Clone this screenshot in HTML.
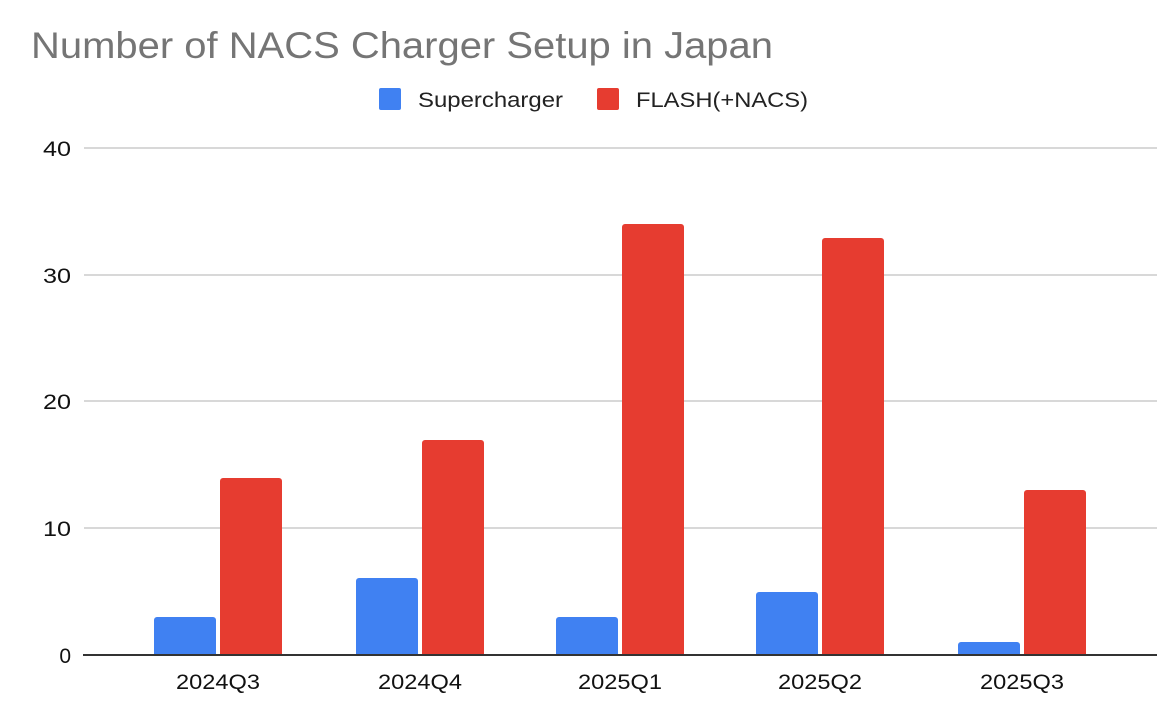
<!DOCTYPE html>
<html><head><meta charset="utf-8"><style>html,body{margin:0;padding:0;background:#fff}svg{display:block}</style></head>
<body>
<svg width="1172" height="720" xmlns="http://www.w3.org/2000/svg" font-family="Liberation Sans, Arial, sans-serif">
<rect width="1172" height="720" fill="#fff"/>
<text x="31" y="58" font-size="37" fill="#757575" textLength="742" lengthAdjust="spacingAndGlyphs">Number of NACS Charger Setup in Japan</text>
<rect x="379" y="88" width="22" height="22" rx="2" fill="#4081f2"/>
<text x="418" y="107" font-size="21" fill="#222" textLength="145" lengthAdjust="spacingAndGlyphs">Supercharger</text>
<rect x="597" y="88" width="22" height="22" rx="2" fill="#e63c30"/>
<text x="636" y="107" font-size="21" fill="#222" textLength="172" lengthAdjust="spacingAndGlyphs">FLASH(+NACS)</text>
<g stroke="#ccc" stroke-width="1.5">
<line x1="84" x2="1157" y1="148" y2="148"/>
<line x1="84" x2="1157" y1="275" y2="275"/>
<line x1="84" x2="1157" y1="401" y2="401"/>
<line x1="84" x2="1157" y1="528" y2="528"/>
</g>
<g font-size="21" fill="#111" text-anchor="end">
<text x="71" y="156" textLength="28" lengthAdjust="spacingAndGlyphs">40</text>
<text x="71" y="283" textLength="28" lengthAdjust="spacingAndGlyphs">30</text>
<text x="71" y="409" textLength="28" lengthAdjust="spacingAndGlyphs">20</text>
<text x="71" y="536" textLength="28" lengthAdjust="spacingAndGlyphs">10</text>
<text x="71" y="663">0</text>
</g>
<g>
<path d="M154,655V620a3,3 0 0 1 3,-3H213a3,3 0 0 1 3,3V655Z" fill="#4081f2"/>
<path d="M220,655V481a3,3 0 0 1 3,-3H279a3,3 0 0 1 3,3V655Z" fill="#e63c30"/>
<path d="M356,655V581a3,3 0 0 1 3,-3H415a3,3 0 0 1 3,3V655Z" fill="#4081f2"/>
<path d="M422,655V443a3,3 0 0 1 3,-3H481a3,3 0 0 1 3,3V655Z" fill="#e63c30"/>
<path d="M556,655V620a3,3 0 0 1 3,-3H615a3,3 0 0 1 3,3V655Z" fill="#4081f2"/>
<path d="M622,655V227a3,3 0 0 1 3,-3H681a3,3 0 0 1 3,3V655Z" fill="#e63c30"/>
<path d="M756,655V595a3,3 0 0 1 3,-3H815a3,3 0 0 1 3,3V655Z" fill="#4081f2"/>
<path d="M822,655V241a3,3 0 0 1 3,-3H881a3,3 0 0 1 3,3V655Z" fill="#e63c30"/>
<path d="M958,655V645a3,3 0 0 1 3,-3H1017a3,3 0 0 1 3,3V655Z" fill="#4081f2"/>
<path d="M1024,655V493a3,3 0 0 1 3,-3H1083a3,3 0 0 1 3,3V655Z" fill="#e63c30"/>
</g>
<line x1="83" x2="1157" y1="655" y2="655" stroke="#333" stroke-width="2"/>
<g font-size="21" fill="#111" text-anchor="middle">
<text x="218" y="689" textLength="84" lengthAdjust="spacingAndGlyphs">2024Q3</text>
<text x="420" y="689" textLength="84" lengthAdjust="spacingAndGlyphs">2024Q4</text>
<text x="620" y="689" textLength="84" lengthAdjust="spacingAndGlyphs">2025Q1</text>
<text x="820" y="689" textLength="84" lengthAdjust="spacingAndGlyphs">2025Q2</text>
<text x="1022" y="689" textLength="84" lengthAdjust="spacingAndGlyphs">2025Q3</text>
</g>
</svg>
</body></html>
